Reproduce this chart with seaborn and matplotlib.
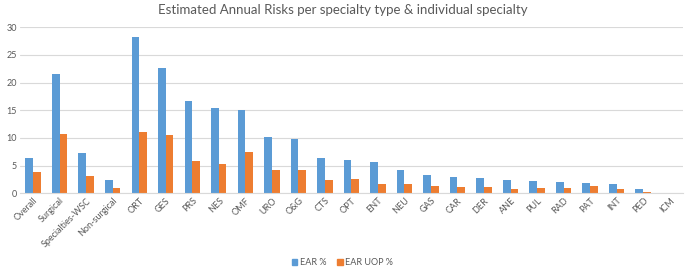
import pandas as pd
import numpy as np
import seaborn as sns
import matplotlib.pyplot as plt

# categories and values
specialties = ['Overall', 'Surgical', 'Specialties-WSC', 'Non-surgical', 'ORT', 'GES', 'PRS', 'NES',
               'OMF', 'URO', 'O&G', 'CTS', 'OPT', 'ENT', 'NEU', 'GAS', 'CAR', 'DER', 'ANE', 'PUL',
               'RAD', 'PAT', 'INT', 'PED', 'ICM']
ear = [6.4, 21.5, 7.2, 2.4, 28.2, 22.6, 16.6, 15.5, 15.1, 10.1, 9.9, 6.4, 6.1, 5.7, 4.3, 3.3,
       3.0, 2.7, 2.4, 2.2, 2.0, 1.9, 1.6, 0.8, 0.0]
ear_uop = [3.8, 10.8, 3.1, 0.9, 11.0, 10.6, 5.8, 5.3, 7.5, 4.3, 4.3, 2.4, 2.6, 1.7, 1.7, 1.4,
           1.2, 1.2, 0.8, 1.0, 1.0, 1.4, 0.7, 0.2, 0.0]
series = ['EAR %', 'EAR UOP %']
colors = ['#5B9BD5', '#ED7D31']

df = pd.DataFrame({'Specialty': specialties, 'EAR %': ear, 'EAR UOP %': ear_uop})
df = df.melt(id_vars='Specialty', var_name='Series', value_name='Risk')

sns.set_style('white')
plt.rcParams['font.family'] = ['Lato', 'DejaVu Sans']

fig = plt.figure(figsize=(6.85, 2.75), dpi=100)
ax = fig.add_axes([0.029, 0.297, 0.968, 0.604])

sns.barplot(data=df, x='Specialty', y='Risk', hue='Series', hue_order=series,
            palette=colors, saturation=1, width=0.58, linewidth=0, ax=ax, legend=False)

ax.set_ylim(0, 30)
ax.set_xlim(-0.5, len(specialties) - 0.5)
ax.set_yticks(range(0, 31, 5))
ax.yaxis.grid(True, color='#d9d9d9', linewidth=0.8)
ax.set_axisbelow(True)
for s in ['top', 'right', 'left']:
    ax.spines[s].set_visible(False)
ax.spines['bottom'].set_color('#d9d9d9')
ax.tick_params(axis='both', length=0, labelsize=6.5, colors='#595959', pad=2)
plt.setp(ax.get_xticklabels(), rotation=45, ha='right', rotation_mode='anchor')
ax.set_xlabel('')
ax.set_ylabel('')

fig.suptitle('Estimated Annual Risks per specialty type & individual specialty',
             x=0.5, y=0.985, fontsize=9.5, color='#595959')

handles = [plt.Rectangle((0, 0), 1, 1, color=c) for c in colors]
fig.legend(handles, series, loc='center', bbox_to_anchor=(0.5, 0.045), ncol=2, frameon=False,
           fontsize=6.5, labelcolor='#595959', handlelength=0.6, handleheight=0.6,
           handletextpad=0.3, columnspacing=1.2)

fig.savefig('out.png', dpi=100)
